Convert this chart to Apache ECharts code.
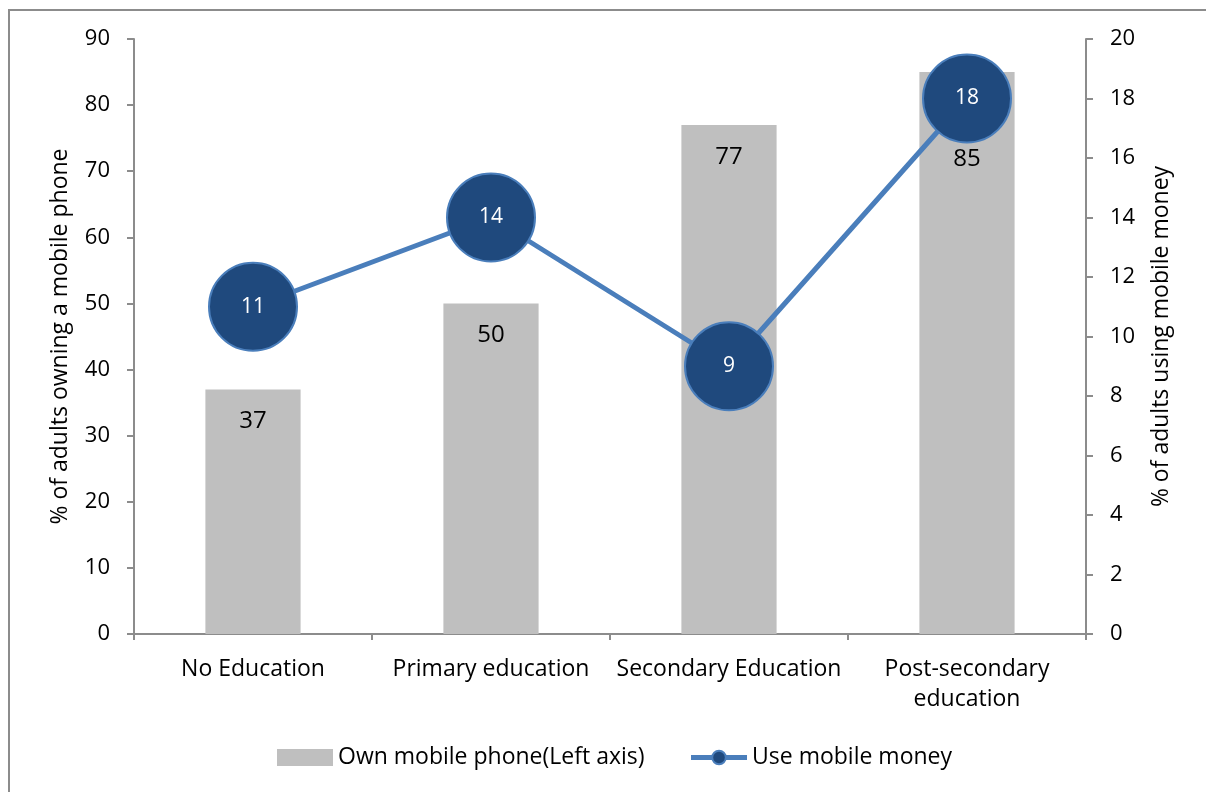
<!DOCTYPE html>
<html>
<head>
<meta charset="utf-8">
<script src="https://cdn.jsdelivr.net/npm/echarts@6/dist/echarts.min.js"></script>
<style>
  html, body { margin: 0; padding: 0; background: #fff; }
  #frame { position: absolute; left: 8px; top: 9px; width: 1220px; height: 800px; border: 2px solid #8c8c8c; box-sizing: border-box; }
  #chart { width: 1206px; height: 792px; position: absolute; left: 0; top: 0; }
</style>
</head>
<body>
<div id="frame"></div>
<div id="chart"></div>
<script>
// data
const categories = ['No Education', 'Primary education', 'Secondary Education', 'Post-secondary\neducation']
const ownPhone = [37, 50, 77, 85]
const useMoney = [11, 14, 9, 18]

const font = '"Open Sans", "Liberation Sans", sans-serif'
const axisLine = { show: true, lineStyle: { color: '#8c8c8c', width: 2 } }
const tick = { show: true, length: 7, lineStyle: { color: '#8c8c8c', width: 2 } }

// the last bar label sits below the marker in the reference
const barData = ownPhone.map(function (v, i) {
    return i === 3 ? { value: v, label: { distance: 75 } } : v
})

const option = {
    animation: false,
    textStyle: { fontFamily: font },
    grid: { left: 134, right: 120, top: 39, bottom: 158 },
    legend: {
        bottom: 18,
        left: 272,
        itemGap: 44,
        itemWidth: 56,
        itemHeight: 17,
        textStyle: { fontSize: 23, color: '#000', fontFamily: font, padding: [0, 0, 0, 0] },
        data: [
            { name: 'Own mobile phone(Left axis)', icon: 'rect', itemStyle: { color: '#bfbfbf', borderWidth: 0 } },
            { name: 'Use mobile money', lineStyle: { width: 5, color: '#4a7ebb' } }
        ]
    },
    xAxis: {
        type: 'category',
        data: categories,
        axisLine: axisLine,
        axisTick: { show: true, length: 6, interval: 0, lineStyle: { color: '#8c8c8c', width: 2 } },
        axisLabel: { interval: 0, fontSize: 23, color: '#000', margin: 20, lineHeight: 30, fontFamily: font }
    },
    yAxis: [
        {
            type: 'value',
            min: 0, max: 90, interval: 10,
            name: '% of adults owning a mobile phone',
            nameLocation: 'middle',
            nameGap: 62,
            nameTextStyle: { fontSize: 23, color: '#000', fontFamily: font },
            axisLine: axisLine,
            axisTick: tick,
            splitLine: { show: false },
            axisLabel: { fontSize: 22, color: '#000', margin: 24, fontFamily: font }
        },
        {
            type: 'value',
            min: 0, max: 20, interval: 2,
            name: '% of adults using mobile money',
            nameLocation: 'middle',
            nameGap: 64,
            nameRotate: 90,
            nameTextStyle: { fontSize: 23, color: '#000', fontFamily: font },
            axisLine: axisLine,
            axisTick: tick,
            splitLine: { show: false },
            axisLabel: { fontSize: 22, color: '#000', margin: 24, fontFamily: font }
        }
    ],
    series: [
        {
            name: 'Own mobile phone(Left axis)',
            type: 'bar',
            data: barData,
            barWidth: '40%',
            itemStyle: { color: '#bfbfbf' },
            label: { show: true, position: 'insideTop', distance: 20, fontSize: 24, color: '#000', fontFamily: font }
        },
        {
            name: 'Use mobile money',
            type: 'line',
            yAxisIndex: 1,
            data: useMoney,
            symbol: 'circle',
            symbolSize: 88,
            lineStyle: { color: '#4a7ebb', width: 5 },
            itemStyle: { color: '#1f497d', borderColor: '#4a7ebb', borderWidth: 2 },
            label: { show: true, position: 'inside', fontSize: 21, color: '#fff', fontFamily: font },
            z: 5
        }
    ]
}

const chart = echarts.init(document.getElementById('chart'))
chart.setOption(option)
window.onresize = function () {
    chart.resize()
}
</script>
</body>
</html>
